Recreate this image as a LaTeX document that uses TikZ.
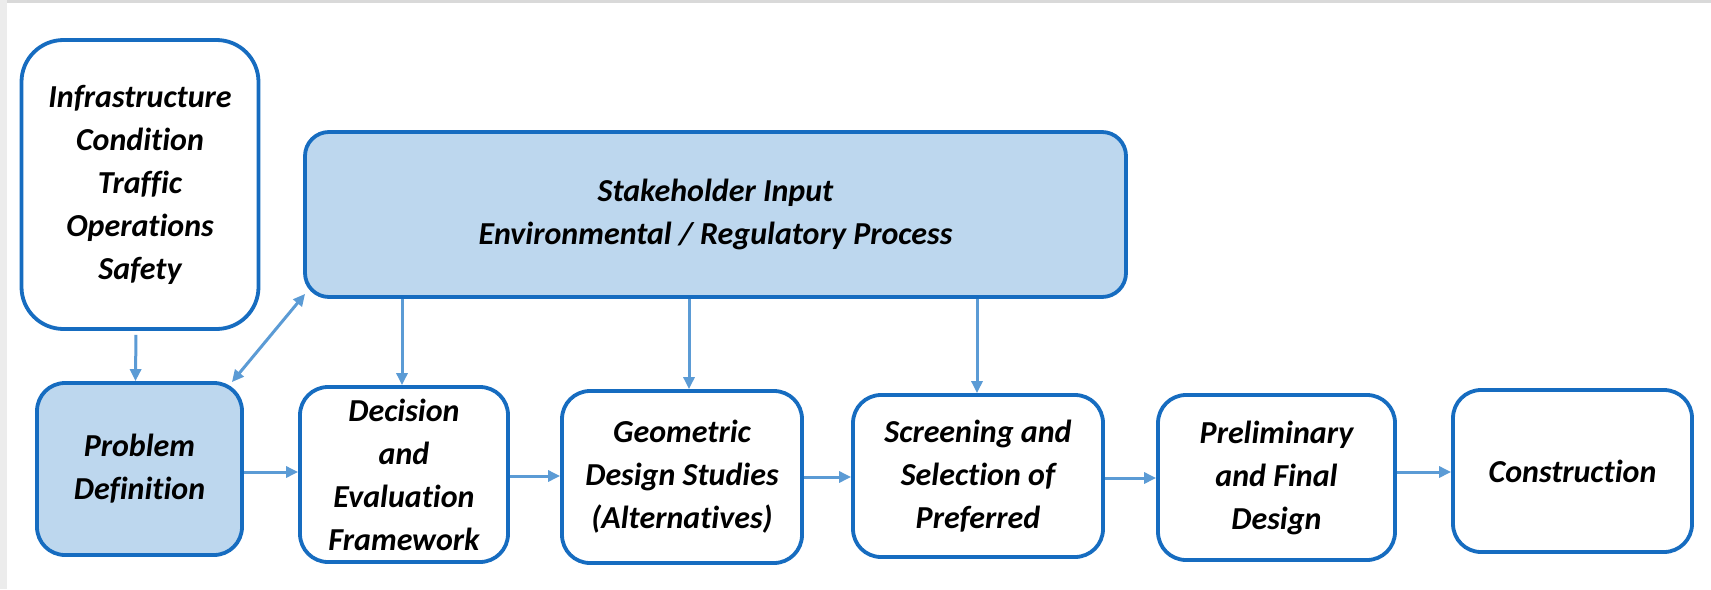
\documentclass[tikz,border=0pt]{standalone}
\usepackage{fontspec}
\setmainfont{Carlito}[Ligatures=NoCommon]
\usetikzlibrary{arrows.meta}
\definecolor{bordc}{HTML}{166CC0}
\definecolor{fillc}{HTML}{BDD7EE}
\definecolor{arrc}{HTML}{5B9BD5}
\begin{document}
\begin{tikzpicture}[x=0.5pt,y=-0.5pt,
  box/.style={draw=bordc, line width=1.9pt, rounded corners=14pt, fill=white,
    align=center, inner sep=0pt,
    font=\fontsize{16}{21.5}\selectfont\bfseries\itshape},
  shaded/.style={box, fill=fillc},
  arr/.style={draw=arrc, line width=1.5pt, -{Triangle[length=6pt,width=5.5pt]}},
  dbl/.style={draw=arrc, line width=1.5pt, {Triangle[length=6pt,width=5.5pt]}-{Triangle[length=6pt,width=5.5pt]}}]
\useasboundingbox (0,0) rectangle (1711,589);
\fill[white] (0,0) rectangle (1711,589);
\fill[gray!30] (0,0) rectangle (1711,3);
\fill[gray!15] (0,0) rectangle (7,589);

\node[box, rounded corners=21pt, minimum width=118.5pt, minimum height=144.5pt] (infra) at (140,184.5)
  {Infrastructure\\Condition\\Traffic\\Operations\\Safety};
\node[shaded, rounded corners=12pt, minimum width=410.5pt, minimum height=82.5pt] (stake) at (715.5,214.5)
  {Stakeholder Input\\Environmental / Regulatory Process};
\node[shaded, minimum width=102.5pt, minimum height=86pt] (prob) at (139.5,469)
  {Problem\\Definition};
\node[box, minimum width=104pt, minimum height=87.5pt] (dec) at (404,474.5)
  {Decision\\and\\Evaluation\\Framework};
\node[box, minimum width=120pt, minimum height=86pt] (geo) at (682,477)
  {Geometric\\Design Studies\\(Alternatives)};
\node[box, minimum width=125pt, minimum height=81pt] (scr) at (978,476)
  {Screening and\\Selection of\\Preferred};
\node[box, minimum width=118.5pt, minimum height=82.5pt] (pre) at (1276.5,477.5)
  {Preliminary\\and Final\\Design};
\node[box, minimum width=119.5pt, minimum height=81pt] (con) at (1572.5,471)
  {Construction};

\draw[arr, shorten <=2pt] ([xshift=-2pt]infra.south) -- ([xshift=-2pt]prob.north);
\draw[dbl] ([shift={(-12,1)}]prob.north east) -- ([shift={(2,-5)}]stake.south west);
\draw[arr] (stake.south -| 402,0) -- (dec.north -| 402,0);
\draw[arr] (stake.south -| 689,0) -- (geo.north -| 689,0);
\draw[arr] (stake.south -| 977,0) -- (scr.north -| 977,0);

\draw[arr] ([yshift=-1.5pt]prob.east) -- ([yshift=-1.5pt]prob.east -| dec.west);
\draw[arr] ([yshift=-0.75pt]dec.east) -- ([yshift=-0.75pt]dec.east -| geo.west);
\draw[arr] (geo.east) -- (geo.east -| scr.west);
\draw[arr] ([yshift=-1pt]scr.east) -- ([yshift=-1pt]scr.east -| pre.west);
\draw[arr] ([yshift=2.75pt]pre.east) -- ([yshift=2.75pt]pre.east -| con.west);
\end{tikzpicture}
\end{document}
